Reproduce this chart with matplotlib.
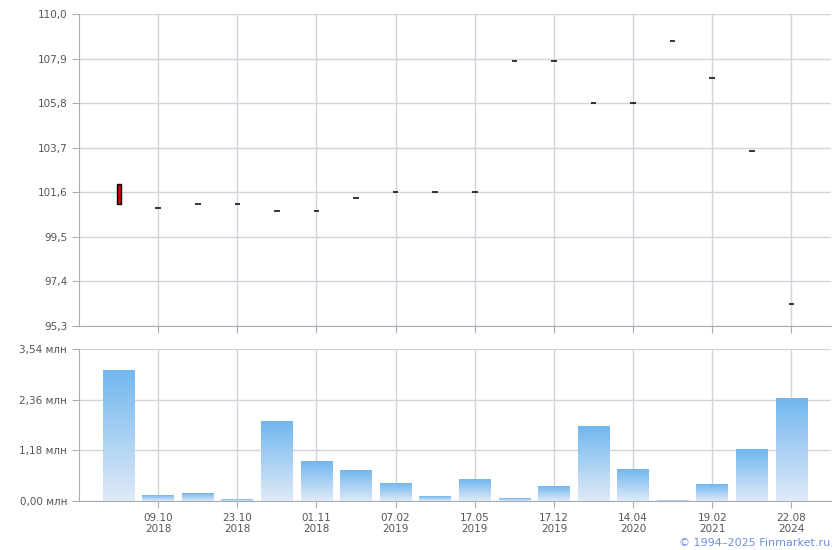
import matplotlib.pyplot as plt
import numpy as np

# значения
opens = [102.0, 100.84, 101.05, 101.05, 100.72, 100.70, 101.31, 101.6, 101.6, 101.6,
         107.77, 107.77, 105.8, 105.8, 108.71, 106.97, 103.53, 96.32]
closes = [101.05, 100.84, 101.05, 101.05, 100.72, 100.70, 101.31, 101.6, 101.6, 101.6,
          107.77, 107.77, 105.8, 105.8, 108.71, 106.97, 103.53, 96.32]
volumes = [3.05, 0.12, 0.17, 0.03, 1.84, 0.91, 0.70, 0.40, 0.10, 0.50,
           0.05, 0.33, 1.73, 0.73, 0.02, 0.38, 1.19, 2.38]
date_labels = ["09.10\n2018", "23.10\n2018", "01.11\n2018", "07.02\n2019", "17.05\n2019",
               "17.12\n2019", "14.04\n2020", "19.02\n2021", "22.08\n2024"]
price_ticks = [95.3, 97.4, 99.5, 101.6, 103.7, 105.8, 107.9, 110.0]
vol_ticks = [0.0, 1.18, 2.36, 3.54]

grid_c = "#cfd5da"
axis_c = "#a9aeb5"
text_c = "#555555"

fig = plt.figure(figsize=(8.4, 5.5), dpi=100)
ax1 = fig.add_axes([79/840, 1-326/550, (831-79)/840, (326-14)/550])
ax2 = fig.add_axes([79/840, 1-501/550, (831-79)/840, (501-349)/550])

x = np.arange(len(opens))
label_pos = x[1::2]

for ax in (ax1, ax2):
    ax.set_xlim(-1, 18)
    ax.set_xticks(label_pos)
    for p in label_pos:
        ax.axvline(p, color=grid_c, lw=1, zorder=0)
    for s in ("top", "right"):
        ax.spines[s].set_visible(False)
    for s in ("left", "bottom"):
        ax.spines[s].set_color(axis_c)
    ax.tick_params(colors=axis_c, labelcolor=text_c, labelsize=7.5, length=5)

# верхняя панель - свечи
ax1.set_ylim(95.3, 110.0)
ax1.set_yticks(price_ticks)
ax1.set_yticklabels([f"{t:.1f}".replace(".", ",") for t in price_ticks])
for t in price_ticks:
    ax1.axhline(t, color=grid_c, lw=1, zorder=0)
ax1.set_xticklabels([])
for i in range(len(opens)):
    o, c = opens[i], closes[i]
    if abs(o - c) > 0.05:
        col = "#dd0000" if c < o else "#ffffff"
        ax1.bar(x[i], abs(o - c), bottom=min(o, c), width=0.1, color=col,
                edgecolor="black", lw=1, zorder=3)
    else:
        ax1.hlines(o, x[i] - 0.07, x[i] + 0.07, color="black", lw=1.1, zorder=3)

# нижняя панель - объёмы
ax2.set_ylim(0, 3.54)
ax2.set_yticks(vol_ticks)
ax2.set_yticklabels([f"{t:.2f} млн".replace(".", ",") for t in vol_ticks])
for t in vol_ticks:
    ax2.axhline(t, color=grid_c, lw=1, zorder=0)
ax2.set_xticklabels(date_labels)

grad = np.linspace(0, 1, 100).reshape(-1, 1)
top_rgb = np.array([0x72, 0xb7, 0xef]) / 255
bot_rgb = np.array([0xdf, 0xea, 0xf7]) / 255
img = bot_rgb + (top_rgb - bot_rgb) * grad[:, :, None]
w = 0.8
for i, v in enumerate(volumes):
    ax2.imshow(img, extent=(x[i] - w/2, x[i] + w/2, 0, v), origin="lower",
               aspect="auto", zorder=2, interpolation="bilinear")
ax2.set_xlim(-1, 18)
ax2.set_ylim(0, 3.54)

fig.text(830/840, 1-543/550, "© 1994–2025 Finmarket.ru", color="#7090dd",
         fontsize=8, ha="right", va="center")

fig.savefig("out.png", dpi=100)
